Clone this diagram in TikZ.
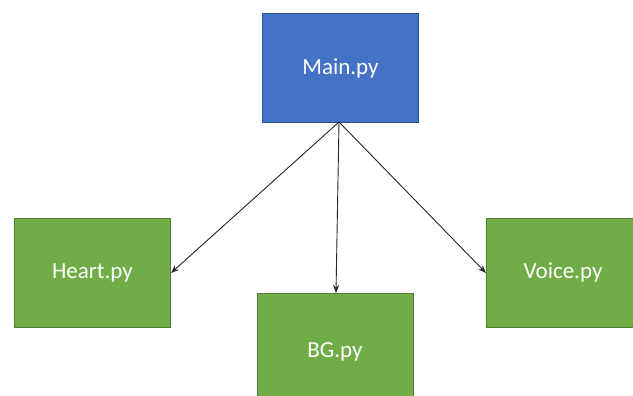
\documentclass[tikz,border=0pt]{standalone}
\usepackage{fontspec}
\setmainfont{Carlito}
\usetikzlibrary{arrows.meta}
\definecolor{mainfill}{HTML}{4472C4}
\definecolor{mainline}{HTML}{2F528F}
\definecolor{modfill}{HTML}{70AD47}
\definecolor{modline}{HTML}{507E32}
\begin{document}
\begin{tikzpicture}[x=1pt,y=-1pt,
  label text/.style={text=white, font=\fontsize{23}{26}\selectfont},
  box/.style={draw, line width=1pt, anchor=north west, inner sep=0pt, label text},
  mainbox/.style={box, fill=mainfill, draw=mainline},
  modbox/.style={box, fill=modfill, draw=modline},
  link/.style={-{Stealth[length=8pt,width=6pt]}, line width=0.9pt, black!85}]
  \useasboundingbox (0,0) rectangle (633,396);
  \fill[white] (0,0) rectangle (633,396);
  \clip (0,0) rectangle (633,396);
  % top-level script
  \node[mainbox, minimum width=156pt, minimum height=109pt] (main) at (262,13) {Main.py};
  % imported modules
  \node[modbox, minimum width=156pt, minimum height=109pt] (heart) at (14,218) {Heart.py};
  \node[modbox, minimum width=156pt, minimum height=122pt] (bg) at (257,293) {};
  \node[label text] (bglabel) at (335,352) {BG.py};
  \node[modbox, minimum width=160pt, minimum height=109pt] (voice) at (486,218) {};
  \node[label text] (voicelabel) at (563,272) {Voice.py};
  % calls from the main script
  \coordinate (src) at (339,122);
  \draw[link] (src) -- (heart.east);
  \draw[link] (src) -- (bg.north -| 336,0);
  \draw[link] (src) -- (voice.west);
\end{tikzpicture}
\end{document}
